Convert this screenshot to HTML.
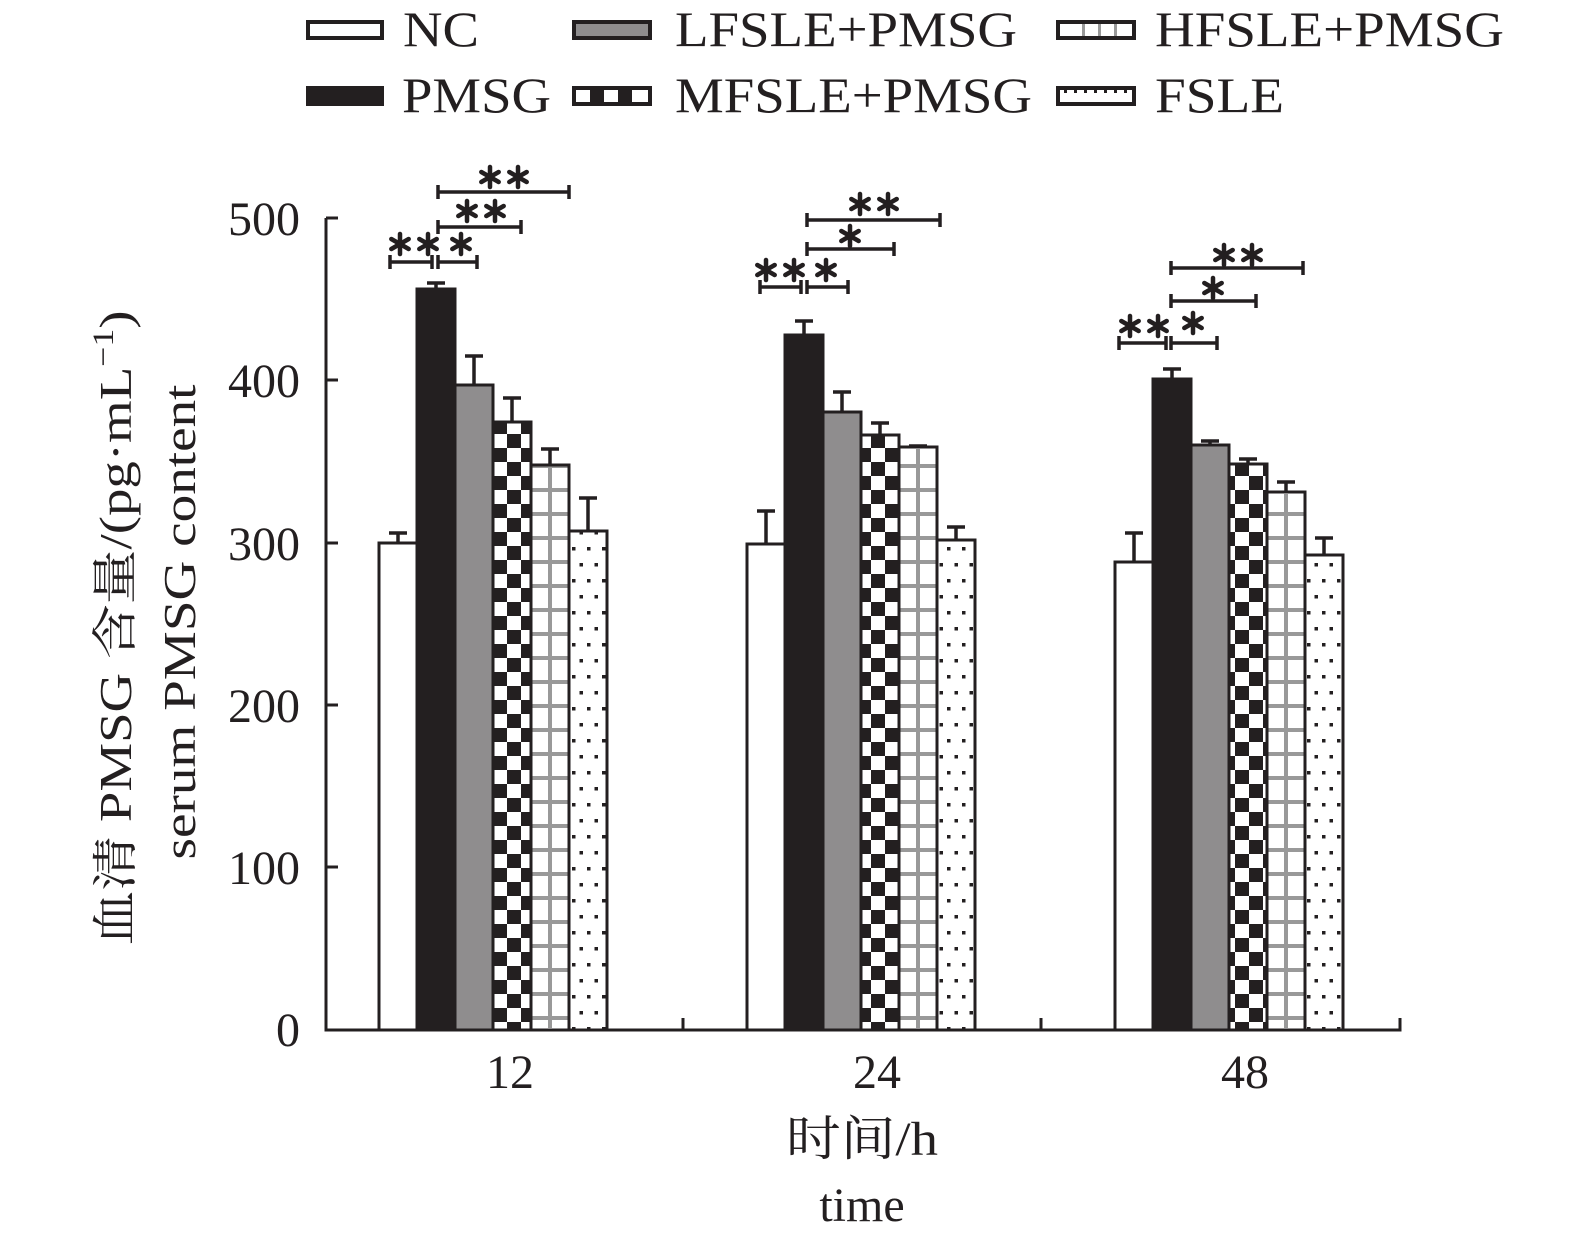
<!DOCTYPE html>
<html><head><meta charset="utf-8"><style>
html,body{margin:0;padding:0;background:#fff;}
svg{display:block}
text{font-family:"Liberation Serif","Noto Serif CJK SC",serif;fill:#231f20}
</style></head><body>
<svg width="1575" height="1245" viewBox="0 0 1575 1245" xmlns="http://www.w3.org/2000/svg">
<defs>
<pattern id="chk" patternUnits="userSpaceOnUse" width="28" height="28" x="493" y="0">
<rect width="28" height="28" fill="#fff"/><rect width="14" height="14" fill="#231f20"/><rect x="14" y="14" width="14" height="14" fill="#231f20"/>
</pattern>
<pattern id="hgrid" patternUnits="userSpaceOnUse" width="40" height="24" x="0" y="1030">
<rect width="40" height="24" fill="#fff"/><rect y="10" width="40" height="4" fill="#999"/>
</pattern>
<pattern id="dots" patternUnits="userSpaceOnUse" width="15" height="32" x="0" y="0">
<rect width="15" height="32" fill="#fff"/><rect x="2" y="3" width="3.5" height="3.5" fill="#231f20"/><rect x="9.5" y="19" width="3.5" height="3.5" fill="#231f20"/>
</pattern>
<g id="ast" stroke="#231f20" stroke-width="4.5" stroke-linecap="round">
<line x1="0" y1="-10" x2="0" y2="10"/><line x1="-8.7" y1="-5" x2="8.7" y2="5"/><line x1="-8.7" y1="5" x2="8.7" y2="-5"/>
</g>
</defs>

<!-- legend -->
<g stroke="#231f20" stroke-width="4">
<rect x="308" y="22" width="74" height="16" fill="#fff"/>
<rect x="308" y="88" width="74" height="16" fill="#231f20"/>
<rect x="574" y="22" width="76" height="16" fill="#8f8d8e"/>
<rect x="574" y="88" width="76" height="16" fill="#fff"/>
<rect x="1058" y="22" width="76" height="16" fill="#fff"/>
<rect x="1058" y="88" width="76" height="16" fill="#fff"/>
</g>
<g fill="#231f20">
<rect x="590" y="90" width="14" height="12"/><rect x="618" y="90" width="14" height="12"/>
</g>
<g fill="#999"><rect x="1082" y="24" width="3" height="12"/><rect x="1098" y="24" width="3" height="12"/><rect x="1114" y="24" width="3" height="12"/></g>
<g fill="#231f20"><rect x="1064" y="90" width="3" height="3"/><rect x="1074" y="90" width="3" height="3"/><rect x="1084" y="90" width="3" height="3"/><rect x="1094" y="90" width="3" height="3"/><rect x="1104" y="90" width="3" height="3"/><rect x="1114" y="90" width="3" height="3"/><rect x="1124" y="90" width="3" height="3"/></g>
<g font-size="50">
<text x="403" y="46" textLength="76" lengthAdjust="spacingAndGlyphs">NC</text>
<text x="675" y="46" textLength="342" lengthAdjust="spacingAndGlyphs">LFSLE+PMSG</text>
<text x="1155" y="46" textLength="349" lengthAdjust="spacingAndGlyphs">HFSLE+PMSG</text>
<text x="402" y="112" textLength="149" lengthAdjust="spacingAndGlyphs">PMSG</text>
<text x="675" y="112" textLength="357" lengthAdjust="spacingAndGlyphs">MFSLE+PMSG</text>
<text x="1155" y="112" textLength="129" lengthAdjust="spacingAndGlyphs">FSLE</text>
</g>

<!-- axes -->
<g stroke="#231f20" stroke-width="3" fill="none">
<path d="M326 218 V1030 H1400 V1018"/>
<path d="M326 218 H338 M326 380 H338 M326 543 H338 M326 705 H338 M326 867 H338 M683 1030 V1018 M1041 1030 V1018"/>
</g>
<g font-size="48" text-anchor="end">
<text x="300" y="235">500</text>
<text x="300" y="397">400</text>
<text x="300" y="560">300</text>
<text x="300" y="722">200</text>
<text x="300" y="884">100</text>
<text x="300" y="1046">0</text>
</g>
<g font-size="48" text-anchor="middle">
<text x="510" y="1088">12</text>
<text x="877" y="1088">24</text>
<text x="1245" y="1088">48</text>
<text x="862" y="1155" textLength="152" lengthAdjust="spacingAndGlyphs">时间/h</text>
<text x="862" y="1221">time</text>
</g>
<text transform="translate(131,628) rotate(-90)" font-size="46" text-anchor="middle" textLength="635" lengthAdjust="spacingAndGlyphs">血清 PMSG 含量/(pg·mL<tspan font-size="30" dy="-18">−1</tspan><tspan dy="18">)</tspan></text>
<text transform="translate(195,622) rotate(-90)" font-size="46" text-anchor="middle" textLength="475" lengthAdjust="spacingAndGlyphs">serum PMSG content</text>

<!-- bars -->
<g stroke="#231f20" stroke-width="3">
<!-- group 12 -->
<rect x="379" y="543" width="38" height="487" fill="#fff"/>
<rect x="417" y="289" width="38" height="741" fill="#231f20"/>
<rect x="455" y="385" width="38" height="645" fill="#8f8d8e"/>
<rect x="493" y="422" width="38" height="608" fill="url(#chk)"/>
<rect x="531" y="465" width="38" height="565" fill="url(#hgrid)"/>
<rect x="569" y="531" width="38" height="499" fill="url(#dots)"/>
<!-- group 24 -->
<rect x="747" y="544" width="38" height="486" fill="#fff"/>
<rect x="785" y="335" width="38" height="695" fill="#231f20"/>
<rect x="823" y="412" width="38" height="618" fill="#8f8d8e"/>
<rect x="861" y="435" width="38" height="595" fill="url(#chk)"/>
<rect x="899" y="447" width="38" height="583" fill="url(#hgrid)"/>
<rect x="937" y="540" width="38" height="490" fill="url(#dots)"/>
<!-- group 48 -->
<rect x="1115" y="562" width="38" height="468" fill="#fff"/>
<rect x="1153" y="379" width="38" height="651" fill="#231f20"/>
<rect x="1191" y="445" width="38" height="585" fill="#8f8d8e"/>
<rect x="1229" y="464" width="38" height="566" fill="url(#chk)"/>
<rect x="1267" y="492" width="38" height="538" fill="url(#hgrid)"/>
<rect x="1305" y="555" width="38" height="475" fill="url(#dots)"/>
</g>
<g fill="#999">
<rect x="548" y="467" width="4" height="561"/>
<rect x="916" y="449" width="4" height="579"/>
<rect x="1284" y="494" width="4" height="534"/>
</g>

<!-- error bars -->
<g stroke="#231f20" stroke-width="3.5" fill="none">
<path d="M398 543V533M389 533H407 M436 289V283M427 283H445 M474 385V356M465 356H483 M512 422V398M503 398H521 M550 465V449M541 449H559 M588 531V498M579 498H597"/>
<path d="M766 544V511M757 511H775 M804 335V321M795 321H813 M842 412V392M833 392H851 M880 435V423M871 423H889 M918 447V446M909 446H927 M956 540V527M947 527H965"/>
<path d="M1134 562V533M1125 533H1143 M1172 379V369M1163 369H1181 M1210 445V441M1201 441H1219 M1248 464V459M1239 459H1257 M1286 492V482M1277 482H1295 M1324 555V538M1315 538H1333"/>
</g>

<!-- significance brackets -->
<g stroke="#231f20" stroke-width="3.5" fill="none">
<path d="M390 262H432 M390 255V269 M432 255V269 M438 262H477 M438 255V269 M477 255V269"/>
<path d="M438 227H521 M438 220V234 M521 220V234"/>
<path d="M438 192H569 M438 185V199 M569 185V199"/>
<path d="M760 287H801 M760 280V294 M801 280V294 M807 287H848 M807 280V294 M848 280V294"/>
<path d="M807 249H894 M807 242V256 M894 242V256"/>
<path d="M807 220H940 M807 213V227 M940 213V227"/>
<path d="M1119 343H1166 M1119 336V350 M1166 336V350 M1171 343H1217 M1171 336V350 M1217 336V350"/>
<path d="M1171 301H1256 M1171 294V308 M1256 294V308"/>
<path d="M1171 268H1303 M1171 261V275 M1303 261V275"/>
</g>
<use href="#ast" x="400" y="244"/><use href="#ast" x="428" y="244"/><use href="#ast" x="461" y="244"/>
<use href="#ast" x="467" y="211"/><use href="#ast" x="495" y="211"/>
<use href="#ast" x="490" y="177"/><use href="#ast" x="518" y="177"/>
<use href="#ast" x="766" y="270"/><use href="#ast" x="794" y="270"/><use href="#ast" x="826" y="270"/>
<use href="#ast" x="850" y="236"/>
<use href="#ast" x="860" y="204"/><use href="#ast" x="888" y="204"/>
<use href="#ast" x="1130" y="326"/><use href="#ast" x="1158" y="326"/><use href="#ast" x="1193" y="323"/>
<use href="#ast" x="1213" y="288"/>
<use href="#ast" x="1224" y="255"/><use href="#ast" x="1252" y="255"/>
</svg>
</body></html>
